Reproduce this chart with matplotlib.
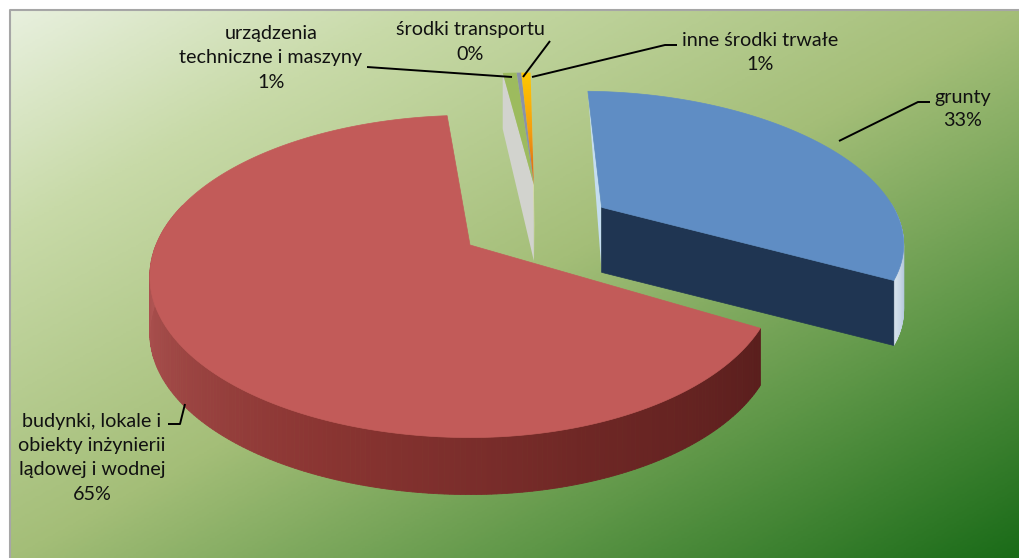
import numpy as np
import matplotlib
matplotlib.use("Agg")
import matplotlib.pyplot as plt
from matplotlib.colors import LinearSegmentedColormap as LSC
from matplotlib.patches import Polygon

plt.rcParams['font.family'] = ['Lato', 'DejaVu Sans']

# ---- data
categories = ["grunty", "budynki, lokale i\nobiekty inżynierii\nlądowej i wodnej",
              "urządzenia\ntechniczne i maszyny", "środki transportu", "inne środki trwałe"]
values = [32.6, 65.4, 0.9, 0.3, 0.6]
percent_labels = ["33%", "65%", "1%", "0%", "1%"]

# ---- styles
W, H = 1020, 558
top_colors = ["#5F8DC4", "#C25B59", "#9DBB5E", "#8A93A8", "#F2A81C"]
offsets = [(0.44, -0.255), (0.0, 0.0), (0.22, -0.42), (0.22, -0.42), (0.22, -0.42)]
radii = [0.975, 1, 1, 1, 1]
depths = [65, 57, 62, 62, 62]
rotation = 1.5
red_right_scale = 0.958
CX, CY, A, B, K = 470, 245, 314, 155, 0.195

fig = plt.figure(figsize=(W / 100, H / 100), dpi=100, facecolor="white")
ax = fig.add_axes([0, 0, 1, 1])
ax.axis("off")

# background panel runs off the right and bottom edges of the picture
px0, py0, px1, py1 = 10, 10, W, H
bg = LSC.from_list("bg", [(0, "#E8F0DE"), (.2, "#C8DAA8"), (.5, "#A4BE78"), (.75, "#5F9748"), (1, "#1A6B18")])
xx, yy = np.meshgrid(np.linspace(0, 1, 400), np.linspace(0, 1, 300))
ax.imshow((xx + yy) / 2, extent=(px0, px1, py1, py0), cmap=bg, vmin=0, vmax=1, aspect="auto", zorder=0)
ax.plot([px0, px0, px1], [py1, py0, py0], color="#A6A6A6", lw=1.5, zorder=1)


def proj(u, v):
    w = 1 - K * v
    return CX + A * u / w, CY + B * v / w


def rim(off, a0, a1, r=1.0, n=120):
    t = np.radians(np.linspace(a0, a1, n))
    return proj(off[0] + r * np.sin(t), off[1] - r * np.cos(t))


shares = np.array(values) / np.sum(values) * 360
edges = rotation + np.concatenate([[0], np.cumsum(shares)])

# ---- red slice
i = 1
off, d = offsets[i], depths[i]
rx, ry = rim(off, edges[i], edges[i + 1], radii[i], 300)
rx = np.where(rx > CX, CX + (rx - CX) * red_right_scale, rx)
ax_, ay_ = proj(*off)
angs = np.linspace(edges[i], edges[i + 1], 300)
side = LSC.from_list("s", ["#5A1E1D", "#6E2725", "#8A3532", "#A24A48", "#B85C5A"])
for j in range(len(rx) - 1):
    if angs[j] > 285:
        continue
    c = side(np.clip((angs[j] - edges[i]) / (285 - edges[i]), 0, 1))
    ax.fill([rx[j], rx[j + 1], rx[j + 1], rx[j]], [ry[j], ry[j + 1], ry[j + 1] + d, ry[j] + d],
            color=c, lw=0.6, zorder=2)
ax.add_patch(Polygon(np.c_[np.r_[ax_, rx], np.r_[ay_, ry]], fc=top_colors[i], ec=top_colors[i], lw=.5, zorder=3))

# ---- blue slice
i = 0
off, d = offsets[i], depths[i]
rx, ry = rim(off, edges[i], edges[i + 1], radii[i], 200)
ax_, ay_ = proj(*off)
angs = np.linspace(edges[i], edges[i + 1], 200)
ax.add_patch(Polygon([(rx[0], ry[0]), (ax_, ay_), (ax_, ay_ + d)], fc="#C4DDF0", ec="none", zorder=2))
side = LSC.from_list("b", ["#D9E4EE", "#A6BDD6", "#7FA3CC"])
for j in range(len(rx) - 1):
    if angs[j] < 88:
        continue
    c = side((edges[i + 1] - angs[j]) / (edges[i + 1] - 88))
    ax.fill([rx[j], rx[j + 1], rx[j + 1], rx[j]], [ry[j], ry[j + 1], ry[j + 1] + d, ry[j] + d],
            color=c, lw=0.6, zorder=2)
ax.add_patch(Polygon([(ax_, ay_), (rx[-1], ry[-1]), (rx[-1], ry[-1] + d), (ax_, ay_ + d)],
                     fc="#1F3552", ec="#1F3552", lw=.5, zorder=3))
ax.add_patch(Polygon(np.c_[np.r_[ax_, rx], np.r_[ay_, ry]], fc=top_colors[i], ec=top_colors[i], lw=.5, zorder=4))

# ---- small slices
for i in [2, 3, 4]:
    off, d = offsets[i], depths[i]
    rx, ry = rim(off, edges[i], edges[i + 1], radii[i], 12)
    ax_, ay_ = proj(*off)
    if i == 2:
        ax.add_patch(Polygon([(rx[0], ry[0]), (ax_, ay_), (ax_, ay_ + d + 14), (rx[0], ry[0] + d - 6)],
                             fc="#D2D3CE", ec="none", zorder=2))
    if i == 4:
        ax.add_patch(Polygon([(ax_, ay_), (rx[-1], ry[-1]), (ax_ + 1, ay_ + d + 14)],
                             fc="#D8DDA0", ec="none", zorder=2))
    poly = Polygon(np.c_[np.r_[ax_, rx], np.r_[ay_, ry]], fc=top_colors[i], ec="none", zorder=3)
    ax.add_patch(poly)
    if i == 4:
        poly.set_facecolor("none")
        grad = LSC.from_list("o", ["#FFC800", "#F5A010", "#D8641A"])
        im = ax.imshow(np.linspace(0, 1, 60)[:, None], extent=(rx.min() - 2, ax_ + 2, ay_, ry.min()),
                       cmap=grad, aspect="auto", zorder=3)
        im.set_clip_path(poly)
ax.set_xlim(0, W)
ax.set_ylim(H, 0)

# ---- leader lines
leaders = [
    [(839, 141), (918, 102), (930, 102)],
    [(168, 424), (180, 424), (185, 404)],
    [(367, 67), (512, 77)],
    [(523, 77), (550, 41)],
    [(532, 77), (665, 45), (677, 45)],
]
for pts in leaders:
    p = np.array(pts)
    ax.plot(p[:, 0], p[:, 1], color="black", lw=1.4, zorder=6, solid_capstyle="butt")

# ---- labels
label_pos = [(963, 109), (92, 458), (271, 58), (470, 42), (760, 52)]
for cat, pct, (x, y) in zip(categories, percent_labels, label_pos):
    ax.text(x, y, cat + "\n" + pct, ha="center", va="center", fontsize=14.2, color="#111111",
            linespacing=1.5, zorder=7)

fig.savefig("out.png", dpi=100, facecolor="white")
